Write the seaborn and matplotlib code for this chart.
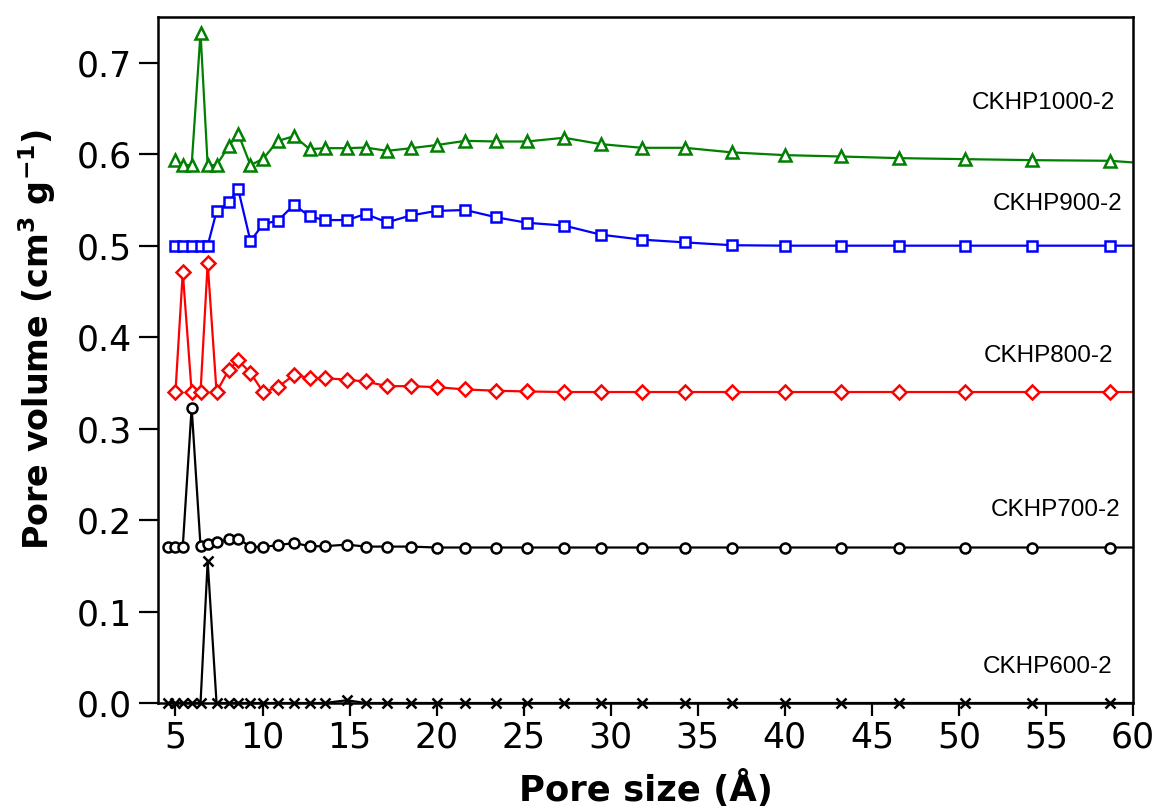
import matplotlib
matplotlib.use("Agg")
import matplotlib.pyplot as plt
import seaborn as sns
import pandas as pd

# Pore sizes (Å) shared by the CKHP800/900/1000 series; the last entry is the right axis edge
pore_size = [5.0, 5.42, 5.93, 6.44, 6.85, 7.36, 8.07, 8.60, 9.31, 10.03, 10.89, 11.81,
             12.71, 13.57, 14.85, 15.92, 17.16, 18.50, 20.00, 21.65, 23.43, 25.20,
             27.32, 29.44, 31.79, 34.26, 36.95, 40.00, 43.20, 46.58, 50.36, 54.20,
             58.67, 60.0]
# CKHP600/700 start one bin lower
pore_size_low = [4.55] + pore_size

ckhp1000 = [0.5935, 0.588, 0.588, 0.733, 0.588, 0.588, 0.609, 0.6226, 0.588, 0.595,
            0.6146, 0.6197, 0.6055, 0.6066, 0.6066, 0.6073, 0.6037, 0.6065, 0.610,
            0.6146, 0.6139, 0.6139, 0.618, 0.611, 0.607, 0.607, 0.602, 0.599, 0.5975,
            0.5957, 0.5946, 0.5935, 0.5928, 0.591]
ckhp900 = [0.5, 0.5, 0.5, 0.5, 0.5, 0.5375, 0.5473, 0.562, 0.5047, 0.5237, 0.5273,
           0.5448, 0.532, 0.528, 0.528, 0.5346, 0.5255, 0.533, 0.538, 0.539, 0.531,
           0.525, 0.522, 0.512, 0.5066, 0.5036, 0.5005, 0.5, 0.5, 0.5, 0.5, 0.5, 0.5, 0.5]
ckhp800 = [0.34, 0.471, 0.34, 0.34, 0.481, 0.34, 0.3646, 0.3745, 0.361, 0.34, 0.3453,
           0.3588, 0.3552, 0.3552, 0.3534, 0.3515, 0.3464, 0.3464, 0.3453, 0.3428,
           0.3414, 0.3406, 0.34, 0.34, 0.34, 0.34, 0.34, 0.34, 0.34, 0.34, 0.34, 0.34,
           0.34, 0.34]
ckhp700 = [0.171, 0.171, 0.171, 0.323, 0.1714, 0.1743, 0.176, 0.179, 0.1798, 0.1707,
           0.1707, 0.1725, 0.175, 0.1714, 0.1714, 0.1732, 0.171, 0.171, 0.171, 0.17,
           0.17, 0.17, 0.17, 0.17, 0.17, 0.17, 0.17, 0.17, 0.17, 0.17, 0.17, 0.17,
           0.17, 0.17, 0.17]
ckhp600 = [0.0, 0.0, 0.0, 0.0, 0.0, 0.155, 0.0, 0.0, 0.0, 0.0, 0.0, 0.0, 0.0, 0.0, 0.0,
           0.003, 0.0, 0.0, 0.0, 0.0, 0.0, 0.0, 0.0, 0.0, 0.0, 0.0, 0.0, 0.0, 0.0, 0.0,
           0.0, 0.0, 0.0, 0.0, 0.0]

sample_names = ["CKHP600-2", "CKHP700-2", "CKHP800-2", "CKHP900-2", "CKHP1000-2"]
x_ticks = [5, 10, 15, 20, 25, 30, 35, 40, 45, 50, 55, 60]
y_ticks = [0.0, 0.1, 0.2, 0.3, 0.4, 0.5, 0.6, 0.7]

sns.set_theme(style="ticks")
plt.rcParams["font.family"] = ["DejaVu Sans"]
plt.rcParams["mathtext.fontset"] = "dejavusans"
plt.rcParams["text.color"] = "black"
plt.rcParams["axes.labelcolor"] = "black"

fig = plt.figure(figsize=(11.57, 8.10), dpi=100)
ax = fig.add_axes([0.1366, 0.1321, 0.8427, 0.8469])

series = [
    (pore_size_low, ckhp600, "black", "x", 7.8),
    (pore_size_low, ckhp700, "black", "o", 7.2),
    (pore_size, ckhp800, "#ff0000", "D", 7.3),
    (pore_size, ckhp900, "#0000ff", "s", 7.6),
    (pore_size, ckhp1000, "#008000", "^", 8.6),
]

for xs, ys, color, marker, ms in series:
    df = pd.DataFrame({"size": xs, "volume": ys})
    # last point sits on the right axis edge and carries only the line
    sns.lineplot(data=df, x="size", y="volume", ax=ax, color=color, lw=1.6,
                 marker=marker, markersize=ms, markerfacecolor="white",
                 markeredgecolor=color, markeredgewidth=1.8,
                 markevery=list(range(len(xs) - 1)), clip_on=False)

# sample names beside their curves
label_pos = [(58.84, 0.0393), (59.28, 0.2107), (58.84, 0.3799), (59.36, 0.5459), (58.96, 0.6565)]
for name, (lx, ly) in zip(sample_names, label_pos):
    ax.text(lx, ly, name, ha="right", va="center", fontsize=17.5,
            family=["Liberation Sans", "DejaVu Sans"], color="black")

ax.set_xlim(4, 60)
ax.set_ylim(0, 0.75)
ax.set_xticks(x_ticks)
ax.set_yticks(y_ticks)
ax.set_yticklabels([f"{v:.1f}" for v in y_ticks])
ax.tick_params(axis="both", direction="out", width=1.6, labelsize=25,
               color="black", labelcolor="black")
ax.tick_params(axis="y", length=14, pad=5)
ax.tick_params(axis="x", length=9.5, pad=3)
ax.tick_params(top=False, right=False)
for side in ["left", "right", "top", "bottom"]:
    ax.spines[side].set_visible(True)
    ax.spines[side].set_color("black")
    ax.spines[side].set_linewidth(1.8)

ax.set_xlabel("Pore size (Å)", fontsize=25.5, fontweight="bold", labelpad=11)
ax.set_ylabel(r"Pore volume (cm$^{\mathbf{3}}$ g$^{\mathbf{-1}}$)", fontsize=24,
              fontweight="bold")
ax.yaxis.set_label_coords(-0.103, 0.53)
ax.grid(False)

fig.savefig("out.png", dpi=100, facecolor="white")
